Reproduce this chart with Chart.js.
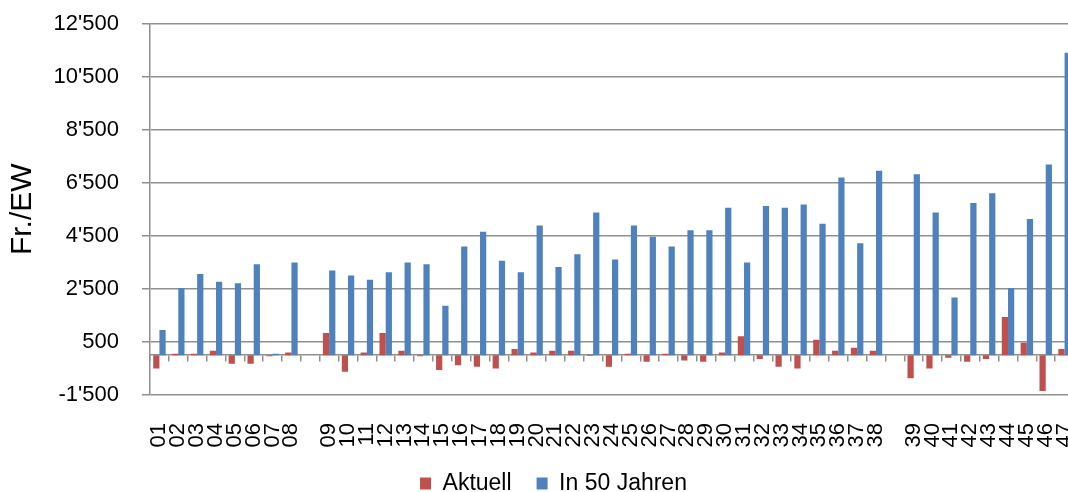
<!DOCTYPE html>
<html lang="de">
<head>
    <meta charset="UTF-8">
    <title>Fr./EW - Aktuell und in 50 Jahren</title>
    <script src="https://cdn.jsdelivr.net/npm/chart.js@4.4.0/dist/chart.umd.min.js"></script>
    <style>
        body {
            margin: 0;
            overflow: hidden;
            background-color: #ffffff;
            font-family: "Liberation Sans", Arial, sans-serif;
        }
        /* breiter als das Fenster: das Original ist rechts abgeschnitten */
        .chart-container {
            position: relative;
            width: 1107px;
            height: 505px;
        }
    </style>
</head>
<body>
    <div class="chart-container">
        <canvas id="ewChart"></canvas>
    </div>

    <script>
        // Kategorien (leere Einträge = Lücken in der Achse)
        const labels = ['01', '02', '03', '04', '05', '06', '07', '08', '',
                        '09', '10', '11', '12', '13', '14', '15', '16', '17', '18', '19',
                        '20', '21', '22', '23', '24', '25', '26', '27', '28', '29',
                        '30', '31', '32', '33', '34', '35', '36', '37', '38', '',
                        '39', '40', '41', '42', '43', '44', '45', '46', '47'];

        // Fr./EW aktuell
        const aktuell = [-500, 50, 50, 170, -320, -320, -40, 100, null,
                         835, -620, 100, 835, 170, -40, -560, -380, -440, -500, 230,
                         100, 170, 170, -30, -440, 50, -250, 50, -200, -250,
                         100, 710, -140, -440, -500, 580, 170, 280, 170, null,
                         -870, -500, -100, -250, -140, 1440, 470, -1350, 230];

        // Fr./EW in 50 Jahren
        const in50Jahren = [950, 2530, 3060, 2770, 2710, 3430, 50, 3490, null,
                            3190, 3000, 2840, 3130, 3490, 3430, 1860, 4100, 4650, 3560, 3130,
                            4890, 3320, 3800, 5380, 3610, 4890, 4460, 4100, 4710, 4710,
                            5560, 3490, 5620, 5560, 5680, 4950, 6700, 4220, 6950, null,
                            6820, 5380, 2170, 5740, 6100, 2530, 5130, 7190, 11400];

        // y-Achse
        const yMin = -1500;
        const yMax = 12500;
        const yStep = 2000;

        const gridGray = '#8f8f8f';
        const fontFamily = '"Liberation Sans", Arial, sans-serif';

        // Tausendertrennzeichen mit Apostroph
        function formatCHF(v) {
            const s = Math.abs(v).toString().replace(/\B(?=(\d{3})+(?!\d))/g, "'");
            return (v < 0 ? '-' : '') + s;
        }

        const ctx = document.getElementById('ewChart').getContext('2d');
        new Chart(ctx, {
            type: 'bar',
            data: {
                labels: labels,
                datasets: [
                    {
                        label: 'Aktuell',
                        data: aktuell,
                        backgroundColor: '#C0504D',
                        categoryPercentage: 0.66,
                        barPercentage: 1.0
                    },
                    {
                        label: 'In 50 Jahren',
                        data: in50Jahren,
                        backgroundColor: '#4F81BD',
                        categoryPercentage: 0.66,
                        barPercentage: 1.0
                    }
                ]
            },
            options: {
                responsive: true,
                maintainAspectRatio: false,
                animation: false,
                layout: {
                    padding: { top: 23.5, right: 0, bottom: 0, left: 0 }
                },
                scales: {
                    x: {
                        position: 'bottom',
                        offset: true,
                        afterFit: function (scale) {
                            scale.height = 52;
                            scale.paddingRight = 33;
                        },
                        grid: { display: false },
                        border: { display: false },
                        ticks: {
                            autoSkip: false,
                            minRotation: 90,
                            maxRotation: 90,
                            padding: 20,
                            color: '#000',
                            font: { family: fontFamily, size: 22 }
                        }
                    },
                    // Nulllinie mit Teilstrichen
                    x2: {
                        type: 'category',
                        labels: labels,
                        position: { y: 0 },
                        offset: true,
                        grid: {
                            offset: true,
                            drawOnChartArea: false,
                            drawTicks: true,
                            tickLength: 6,
                            color: gridGray,
                            lineWidth: 1.5
                        },
                        border: { display: true, color: gridGray, width: 1.5 },
                        ticks: { display: false }
                    },
                    y: {
                        min: yMin,
                        max: yMax,
                        afterFit: function (scale) {
                            scale.width = 150;
                            scale.paddingTop = 0;
                        },
                        grid: {
                            color: gridGray,
                            lineWidth: 1.5,
                            drawTicks: true,
                            tickLength: 8
                        },
                        border: { display: true, color: gridGray, width: 1.5 },
                        ticks: {
                            stepSize: yStep,
                            padding: 23,
                            color: '#000',
                            font: { family: fontFamily, size: 22 },
                            callback: function (value) { return formatCHF(value); }
                        },
                        title: {
                            display: true,
                            text: 'Fr./EW',
                            color: '#000',
                            padding: { top: 5, bottom: 0 },
                            font: { family: fontFamily, size: 30 }
                        }
                    }
                },
                plugins: {
                    legend: {
                        position: 'bottom',
                        labels: {
                            boxWidth: 11,
                            boxHeight: 12,
                            padding: 25,
                            color: '#000',
                            font: { family: fontFamily, size: 23 }
                        }
                    },
                    tooltip: { enabled: false }
                }
            }
        });
    </script>
</body>
</html>
